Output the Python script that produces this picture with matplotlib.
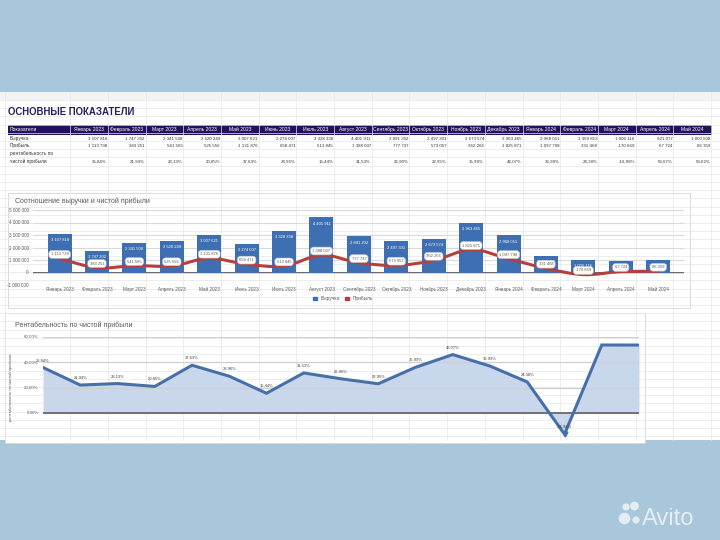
import numpy as np
import matplotlib
matplotlib.use('Agg')
import matplotlib.pyplot as plt
from matplotlib.patches import Rectangle, PathPatch, Circle, Patch
from matplotlib.path import Path

plt.rcParams['font.family'] = ['Liberation Sans', 'DejaVu Sans']

months = ['Январь 2023', 'Февраль 2023', 'Март 2023', 'Апрель 2023', 'Май 2023',
          'Июнь 2023', 'Июль 2023', 'Август 2023', 'Сентябрь 2023', 'Октябрь 2023',
          'Ноябрь 2023', 'Декабрь 2023', 'Январь 2024', 'Февраль 2024', 'Март 2024',
          'Апрель 2024', 'Май 2024']
revenue = [3107818, 1747202, 2341508, 2520249, 3007621, 2274007, 3328338, 4401911,
           2891202, 2497301, 2673574, 3963465, 2968051, 1359813, 1006116, 921077, 1000508]
profit = [1113738, 383251, 541565, 525556, 1131876, 658471, 513845, 1388037,
          777737, 573057, 962266, 1825871, 1097798, 331468, -170669, 67724, 86359]
margin = [35.84, 21.94, 23.13, 20.85, 37.63, 28.96, 15.44, 31.53, 26.90, 22.95,
          35.99, 46.07, 36.99, 24.38, -16.98, 53.67, 53.62]
rev_ticks = [-1000000, 0, 1000000, 2000000, 3000000, 4000000, 5000000]
mar_ticks = [0, 20, 40, 60]

W, H = 720, 540
BG = '#a9c7db'
NAVY = '#22125c'
BLUE = '#3f6fb3'
RED = '#b3403f'
GREY = '#595959'


def fbox(x0, y0, x1, y1):
    return [x0 / W, 1 - y1 / H, (x1 - x0) / W, (y1 - y0) / H]


def num(v):
    return f'{v:,}'.replace(',', ' ')


def smooth_path(xs, ys):
    # Bezier curve through the points (like Excel's smoothed line)
    n = len(xs)
    verts = [(xs[0], ys[0])]
    codes = [Path.MOVETO]
    for i in range(n - 1):
        a, b = max(i - 1, 0), min(i + 2, n - 1)
        c1 = (xs[i] + (xs[i + 1] - xs[a]) / 6, ys[i] + (ys[i + 1] - ys[a]) / 6)
        c2 = (xs[i + 1] - (xs[b] - xs[i]) / 6, ys[i + 1] - (ys[b] - ys[i]) / 6)
        verts += [c1, c2, (xs[i + 1], ys[i + 1])]
        codes += [Path.CURVE4] * 3
    return Path(verts, codes)


fig = plt.figure(figsize=(7.2, 5.4), dpi=100)
fig.patch.set_facecolor(BG)
bg = fig.add_axes([0, 0, 1, 1])
bg.set_xlim(0, W)
bg.set_ylim(H, 0)
bg.axis('off')

# spreadsheet sheet
bg.add_patch(Rectangle((0, 92), W, 348, fc='white', ec='none'))
bg.add_patch(Rectangle((0, 92), W, 8, fc='#f3f3f3', ec='none'))
for y in np.arange(100, 440, 8.2):
    bg.plot([0, W], [y, y], color='#e6e6e6', lw=0.5)
col_w = 37.7
col_c = [89 + col_w * j for j in range(len(months))]
for xb in [5, 70] + [c + col_w / 2 for c in col_c]:
    bg.plot([xb, xb], [92, 440], color='#e6e6e6', lw=0.5)

# table
bg.text(8, 112, 'ОСНОВНЫЕ ПОКАЗАТЕЛИ', fontsize=6.9, fontweight='bold',
        color='#2a1d5e', va='center', ha='left')
bg.add_patch(Rectangle((8, 125), 704, 9.5, fc=NAVY, ec='none'))
bg.text(10, 129.8, 'Показатели', fontsize=3.6, color='white', va='center')
for c, m in zip(col_c, months):
    bg.text(c, 129.8, m, fontsize=3.6, color='white', va='center', ha='center')
bg.text(10, 138.5, 'Выручка', fontsize=3.4, color='#333333', va='center')
bg.text(10, 146, 'Прибыль', fontsize=3.4, color='#333333', va='center')
bg.text(10, 154, 'рентабельность по', fontsize=3.4, color='#333333', va='center')
bg.text(10, 161.5, 'чистой прибыли', fontsize=3.4, color='#333333', va='center')
for c, r, p, mg in zip(col_c, revenue, profit, margin):
    bg.text(c + 18, 138.5, num(r), fontsize=3.2, color='#333333', va='center', ha='right')
    bg.text(c + 18, 146, num(p), fontsize=3.2, color='#333333', va='center', ha='right')
    bg.text(c + 18, 161.5, f'{mg:.2f}%'.replace('.', ','), fontsize=3.2,
            color='#333333', va='center', ha='right')

# chart 1: revenue vs profit
bg.add_patch(Rectangle((8, 193), 682, 115, fc='white', ec='#d4d4d4', lw=0.6))
bg.text(15, 201, 'Соотношение выручки и чистой прибыли', fontsize=5,
        color=GREY, va='center')
ax1 = fig.add_axes(fbox(33, 210, 684, 285))
x = np.arange(len(months))
bars = ax1.bar(x, revenue, width=0.64, color=BLUE, zorder=2)
ax1.add_patch(PathPatch(smooth_path(x, profit), fill=False, ec=RED, lw=2.2,
                        capstyle='round', zorder=3))
ax1.set_xlim(-0.71, 16.69)
ax1.set_ylim(-1000000, 5000000)
ax1.set_yticks(rev_ticks)
ax1.set_yticklabels([num(t) for t in rev_ticks])
ax1.set_xticks(x)
ax1.set_xticklabels(months)
ax1.tick_params(length=0, labelsize=3.3, labelcolor=GREY, pad=3)
ax1.tick_params(axis='x', pad=1.5)
ax1.grid(axis='y', color='#d9d9d9', lw=0.8, zorder=0)
ax1.axhline(0, color='#3c3c3c', lw=1.1, zorder=1)
for s in ax1.spines.values():
    s.set_visible(False)
ax1.set_facecolor('none')
for i, v in enumerate(revenue):
    ax1.annotate(num(v), (i, v), xytext=(0, -4.5), textcoords='offset points',
                 ha='center', va='center', color='white', fontsize=3.0, zorder=4)
for i, v in enumerate(profit):
    ax1.annotate(num(v), (i, v), xytext=(0, 3), textcoords='offset points',
                 ha='center', va='center', color=GREY, fontsize=3.0, zorder=5,
                 bbox=dict(boxstyle='round,pad=0.45,rounding_size=0.7', fc='white',
                           ec='#c9c9c9', lw=0.4))
ax1.legend([Patch(color=BLUE), Patch(color=RED)], ['Выручка', 'Прибыль'],
           loc='center', bbox_to_anchor=(343 / W, 1 - 298.5 / H),
           bbox_transform=fig.transFigure, ncol=2, frameon=False, fontsize=3.4,
           handlelength=0.8, handleheight=0.8, columnspacing=1.2, labelcolor=GREY)

# chart 2: margin
bg.add_patch(Rectangle((5, 313), 640, 130, fc='white', ec='#d4d4d4', lw=0.6))
bg.text(15, 325, 'Рентабельность по чистой прибыли', fontsize=5,
        color=GREY, va='center')
ax2 = fig.add_axes(fbox(43, 337, 639, 438))
ax2.fill_between(x, margin, 0, color='#c8d7ec', lw=0, zorder=1)
ax2.plot(x, margin, color='#4770a8', lw=2.2, zorder=3, solid_joinstyle='miter')
ax2.plot(14, margin[14], marker='v', ms=3.5, color='#4770a8', zorder=4)
ax2.set_xlim(0, 16)
ax2.set_ylim(-20, 60)
ax2.set_yticks(mar_ticks)
ax2.set_yticklabels([f'{t:.2f}%' for t in mar_ticks])
ax2.set_xticks([])
ax2.tick_params(length=0, labelsize=3.2, labelcolor=GREY, pad=3)
ax2.grid(axis='y', color='#cfcfcf', lw=0.9, zorder=0)
ax2.axhline(0, color='#6a6a6a', lw=1.3, zorder=2)
for s in ax2.spines.values():
    s.set_visible(False)
ax2.set_facecolor('none')
ax2.set_ylabel('рентабельность по чистой прибыли', fontsize=3.0, color=GREY, labelpad=8)
for i, v in enumerate(margin[:15]):
    ax2.annotate(f'{v:.2f}%', (i, v), xytext=(0, 5), textcoords='offset points',
                 ha='center', va='center', color='#404040', fontsize=3.0, zorder=5)

# watermark
for cx, cy, r in [(626, 507, 3.6), (634.5, 506, 4.4), (624.5, 518.5, 5.8), (636, 520, 3.6)]:
    bg.add_patch(Circle((cx, cy), r, fc='#eef4f8', ec='none', alpha=0.85))
bg.text(642, 525, 'Avito', fontsize=17, color='#eef4f8', alpha=0.85,
        va='baseline', ha='left')

fig.savefig('out.png', dpi=100, facecolor=fig.get_facecolor())
